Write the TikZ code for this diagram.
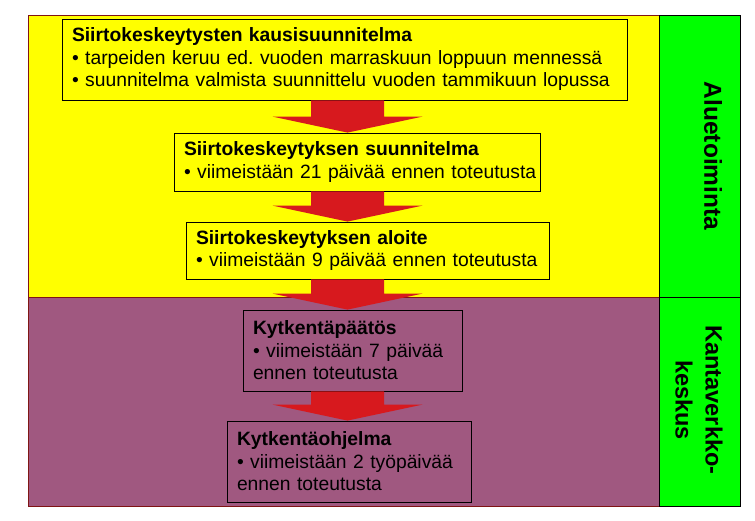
\documentclass[tikz,border=0pt]{standalone}
\usepackage{fontspec}
\setmainfont{Liberation Sans}
\usetikzlibrary{calc}
\definecolor{yel}{RGB}{255,255,0}
\definecolor{purp}{RGB}{160,88,128}
\definecolor{grn}{RGB}{0,255,0}
\definecolor{arred}{RGB}{215,25,30}
\definecolor{rim}{RGB}{128,20,20}
\frenchspacing
\tikzset{
  region/.style={draw=rim, line width=0.8pt, anchor=north west, inner sep=0pt},
  side/.style={draw=black, line width=0.8pt, fill=grn, anchor=north west, inner sep=0pt},
  stagebox/.style={draw=black, line width=0.8pt, align=left, inner xsep=10pt, inner ysep=0pt,
    font=\fontsize{19.3}{22.5}\selectfont},
  sidelabel/.style={rotate=-90, align=center, font=\bfseries\fontsize{24.5}{30}\selectfont},
  bigarrow/.style={fill=arred}
}
\newcommand{\fatarrow}[2]{%
  \fill[bigarrow] let \p1=(#1.south -| ax), \p2=(#2.north -| ax) in
    (\x1-36.5pt,\y1) -- (\x1+36.5pt,\y1) -- (\x1+36.5pt,\y2+16pt) -- (\x1+75pt,\y2+16pt)
    -- (\x1,\y2) -- (\x1-75pt,\y2+16pt) -- (\x1-36.5pt,\y2+16pt) -- cycle;}
\begin{document}
\begin{tikzpicture}[x=1pt,y=-1pt]
\useasboundingbox (0,0) rectangle (755,521);
\node[region, fill=yel, minimum width=631, minimum height=283] (alue) at (28,15) {};
\node[region, fill=purp, minimum width=631, minimum height=208.5] (kanta) at (28,297.5) {};
\node[side, minimum width=81, minimum height=282.5] (g1) at (659,15) {};
\node[side, minimum width=81, minimum height=209] (g2) at (659,297) {};
\coordinate (ax) at (347.5,0);

\node[stagebox, minimum width=565, minimum height=81, text width=545] (b1) at (344.5,59.5)
  {\mbox{\textbf{Siirtokeskeytysten kausisuunnitelma}}\\
   \mbox{• tarpeiden keruu ed. vuoden marraskuun loppuun mennessä}\\
   \mbox{• suunnitelma valmista suunnittelu vuoden tammikuun lopussa}};
\node[stagebox, minimum width=366, minimum height=58, text width=346] (b2) at (357,162)
  {\mbox{\textbf{Siirtokeskeytyksen suunnitelma}}\\
   \mbox{• viimeistään 21 päivää ennen toteutusta}};
\node[stagebox, minimum width=363, minimum height=57, text width=343] (b3) at (367.5,250.5)
  {\mbox{\textbf{Siirtokeskeytyksen aloite}}\\
   \mbox{• viimeistään 9 päivää ennen toteutusta}};
\node[stagebox, minimum width=219, minimum height=81, text width=199] (b4) at (352.5,350.5)
  {\mbox{\textbf{Kytkentäpäätös}}\\
   \mbox{• viimeistään 7 päivää}\\
   \mbox{ennen toteutusta}};
\node[stagebox, minimum width=244, minimum height=81, text width=224] (b5) at (349,461.5)
  {\mbox{\textbf{Kytkentäohjelma}}\\
   \mbox{• viimeistään 2 työpäivää}\\
   \mbox{ennen toteutusta}};

\fatarrow{b1}{b2}
\fatarrow{b2}{b3}
\fatarrow{b3}{b4}
\fatarrow{b4}{b5}

\node[sidelabel] (l1) at (713,156) {Aluetoiminta};
\node[sidelabel, font=\bfseries\fontsize{23.5}{30}\selectfont] (l2) at (699,400) {Kantaverkko-\\keskus};
\end{tikzpicture}
\end{document}
